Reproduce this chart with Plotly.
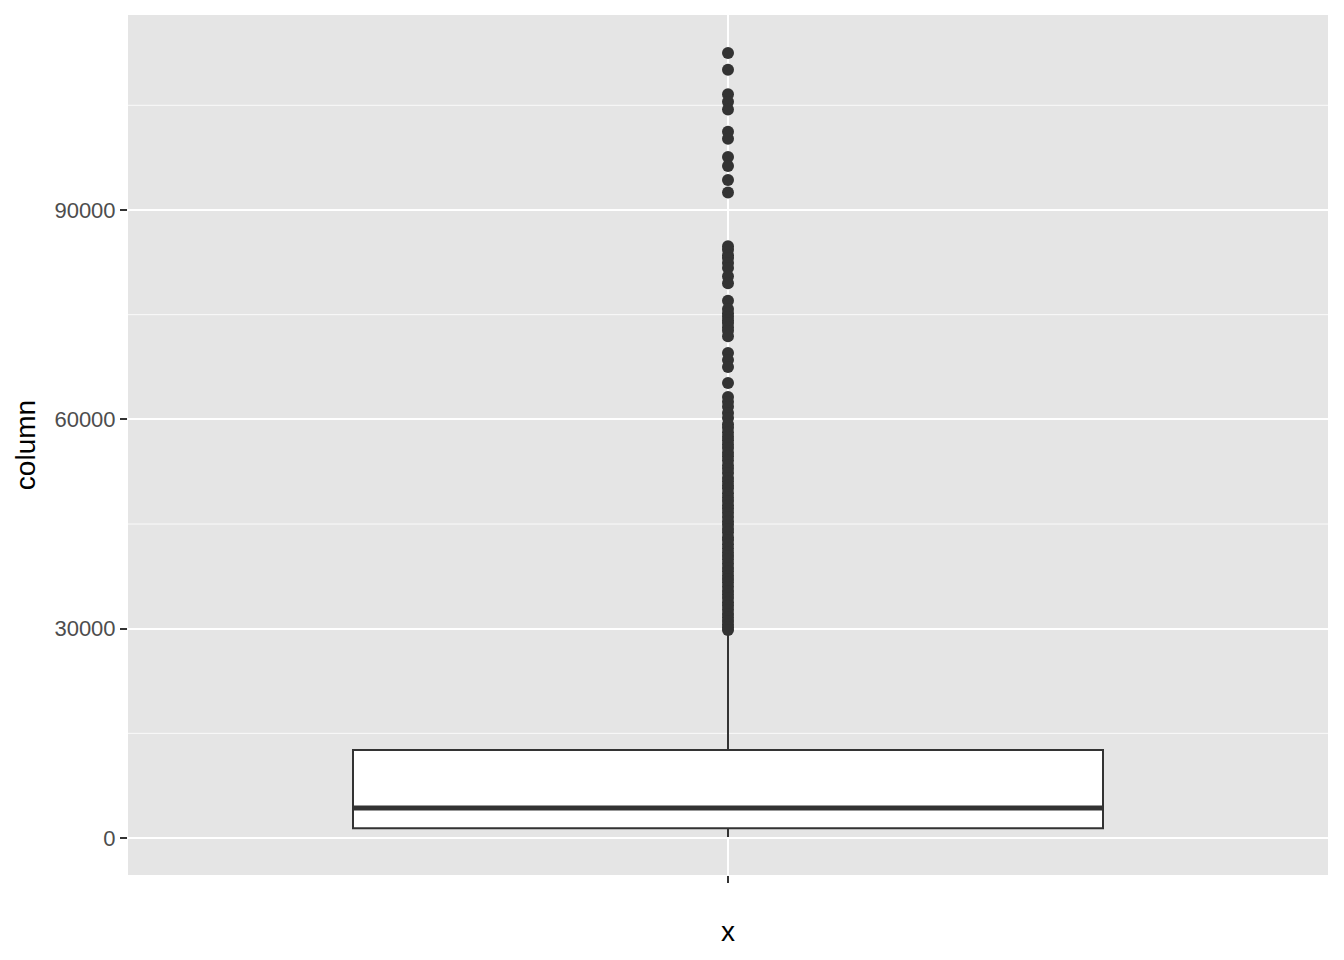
import plotly.graph_objects as go

# ---- data ----
category = ["x"]
q1 = [1400]
median = [4300]
q3 = [12600]
lower_fence = [150]
upper_fence = [29300]
outliers = [
    112500, 110100, 106600, 105500, 104400, 101200, 100200, 97600, 96300,
    94300, 92500,
    84800, 84300, 83500, 83100, 82400, 81700, 80500, 79500, 77000, 75800,
    75200, 74700, 74200, 73800, 73200, 72700, 71900, 69500, 68500, 67500,
    65200, 63200, 62500, 61800, 60900, 60200,
    59300, 58800, 58100, 57500, 57000, 56400, 55900, 55200, 54700, 54100,
    53400, 52900, 52300, 51600, 51100, 50500, 50100, 49400, 48800, 48300,
    47700, 47200, 46600, 46000, 45400, 44900, 44300, 43800, 43100, 42700,
    42100, 41500, 40900, 40400, 39900, 39300, 38700, 38200, 37600, 37100,
    36600, 36000, 35400, 34900, 34400, 33800, 33300, 32700, 32100, 31600,
    31100, 30600, 30200, 29800,
]
y_ticks = [0, 30000, 60000, 90000]
y_minor = [15000, 45000, 75000, 105000]

BOX_W = 0.75
INK = "#333333"
PANEL = "#E5E5E5"

fig = go.Figure()

fig.add_trace(go.Box(
    x=[0], q1=q1, median=median, q3=q3,
    lowerfence=lower_fence, upperfence=upper_fence,
    width=BOX_W, whiskerwidth=0,
    fillcolor="white", line=dict(color=INK, width=2),
    boxpoints=False, showlegend=False, hoverinfo="skip",
))

fig.add_trace(go.Scatter(
    x=[0] * len(outliers), y=outliers, mode="markers",
    marker=dict(color=INK, size=12, line=dict(width=0)),
    showlegend=False, hoverinfo="skip",
))

# thicker median line (ggplot fatten)
fig.add_shape(type="line", xref="x", yref="y",
              x0=-BOX_W / 2, x1=BOX_W / 2, y0=median[0], y1=median[0],
              line=dict(color=INK, width=5), layer="above")

# minor grid lines
for v in y_minor:
    fig.add_shape(type="line", xref="paper", yref="y", x0=0, x1=1, y0=v, y1=v,
                  line=dict(color="#FAFAFA", width=1), layer="below")

fig.update_layout(
    width=1344, height=960,
    margin=dict(l=128, r=16, t=15, b=85, autoexpand=False),
    paper_bgcolor="white", plot_bgcolor=PANEL,
    font=dict(family="Liberation Sans, Arial, sans-serif", color="#4D4D4D"),
    showlegend=False,
)

fig.update_xaxes(
    range=[-0.6, 0.6], tickvals=[0], ticktext=[""],
    showgrid=True, gridcolor="white", gridwidth=2,
    zeroline=False, showline=False,
    ticks="outside", ticklen=7, tickwidth=2, tickcolor=INK,
    title=dict(text="x", font=dict(size=28, color="black"), standoff=36),
)

fig.update_yaxes(
    range=[-5300, 117940], tickvals=y_ticks,
    ticktext=[str(v) for v in y_ticks],
    showgrid=True, gridcolor="white", gridwidth=2,
    zeroline=False, showline=False,
    ticks="outside", ticklen=7, tickwidth=2, tickcolor=INK,
    tickfont=dict(size=22, color="#4D4D4D"),
    title=dict(text="column", font=dict(size=28, color="black"), standoff=10),
)

fig.write_html("out.html", config={"displayModeBar": False},
               post_script="document.body.style.margin='0';document.body.style.overflow='hidden';")
